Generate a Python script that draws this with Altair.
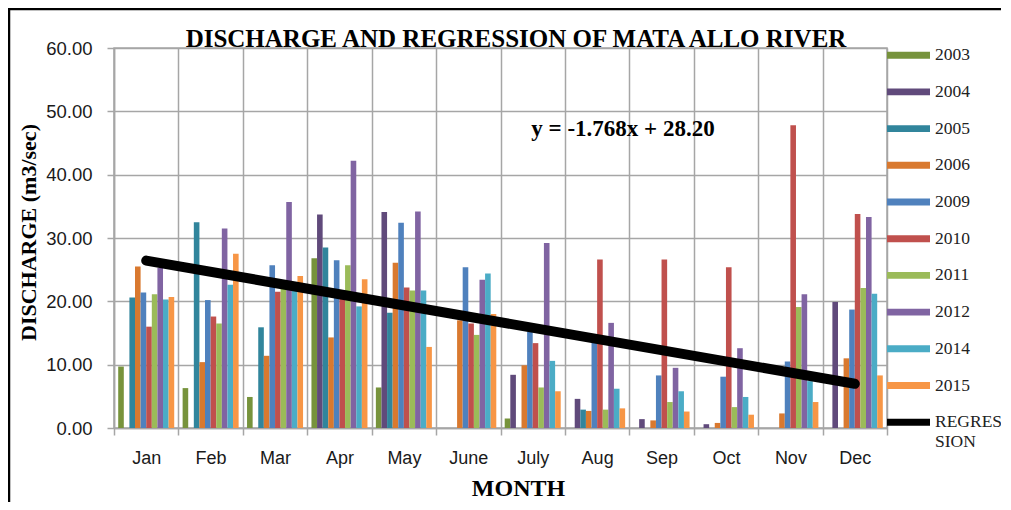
import altair as alt
import pandas as pd

MONTHS = ["Jan", "Feb", "Mar", "Apr", "May", "June", "July", "Aug", "Sep", "Oct", "Nov", "Dec"]
YEARS = ["2003", "2004", "2005", "2006", "2009", "2010", "2011", "2012", "2014", "2015"]
COLORS = ["#77933C", "#604A7B", "#31859C", "#D9792F", "#4F81BD", "#C0504D",
          "#9BBB59", "#8064A2", "#4BACC6", "#F79646"]

# discharge (m3/sec) per month, one list per year
Y2003 = [9.7, 6.3, 4.9, 26.8, 6.4, 0.0, 1.5, 0.0, 0.0, 0.0, 0.0, 0.0]
Y2004 = [0.0, 0.0, 0.0, 33.7, 34.1, 0.0, 8.4, 4.6, 1.4, 0.6, 0.0, 19.9]
Y2005 = [20.6, 32.5, 15.9, 28.5, 18.2, 0.0, 0.0, 2.9, 0.0, 0.0, 0.0, 0.0]
Y2006 = [25.5, 10.4, 11.4, 14.3, 26.1, 17.0, 9.9, 2.7, 1.2, 0.8, 2.3, 11.0]
Y2009 = [21.4, 20.2, 25.7, 26.5, 32.4, 25.4, 15.2, 14.0, 8.3, 8.1, 10.5, 18.7]
Y2010 = [16.0, 17.6, 21.5, 20.5, 22.2, 16.5, 13.4, 26.6, 26.6, 25.4, 47.8, 33.8]
Y2011 = [21.1, 16.5, 22.0, 25.7, 21.7, 14.7, 6.4, 2.9, 4.1, 3.3, 19.1, 22.1]
Y2012 = [25.3, 31.5, 35.7, 42.2, 34.2, 23.4, 29.2, 16.6, 9.5, 12.6, 21.1, 33.3]
Y2014 = [20.3, 22.6, 22.3, 19.2, 21.7, 24.4, 10.6, 6.2, 5.8, 4.9, 7.4, 21.2]
Y2015 = [20.7, 27.5, 24.0, 23.5, 12.8, 18.0, 5.8, 3.1, 2.6, 2.1, 4.1, 8.3]
SERIES = [Y2003, Y2004, Y2005, Y2006, Y2009, Y2010, Y2011, Y2012, Y2014, Y2015]

# regression line end points (Jan and Dec), y = -1.768x + 28.20
REG_MONTHS = ["Jan", "Dec"]
REG_VALUES = [26.43, 6.98]
REG_LABEL = "REGRESSION"
EQUATION = "y = -1.768x + 28.20"
TITLE = "DISCHARGE AND REGRESSION OF MATA ALLO RIVER"

rows = []
for yr, vals in zip(YEARS, SERIES):
    for m, v in zip(MONTHS, vals):
        if v > 0:
            rows.append({"month": m, "year": yr, "value": v})
bars_df = pd.DataFrame(rows)
reg_df = pd.DataFrame({"month": REG_MONTHS, "value": REG_VALUES})
one = pd.DataFrame({"k": [0]})

GRID = "#a6a6a6"
SERIF = "Liberation Serif"
SANS = "Liberation Sans"

x_enc = alt.X(
    "month:N", sort=MONTHS,
    scale=alt.Scale(domain=MONTHS, paddingInner=0, paddingOuter=0),
    axis=alt.Axis(
        tickBand="extent", grid=True, gridColor=GRID, gridWidth=1.5,
        tickColor=GRID, tickWidth=1.5, tickSize=7, domainColor=GRID, domainWidth=1.5,
        labelAngle=0, labelFont=SANS, labelFontSize=18, labelColor="#1a1a1a", labelPadding=14,
        title="MONTH", titleFont=SERIF, titleFontSize=24, titleFontWeight="bold",
        titleColor="#000000", titleX=404, titleY=67, titleBaseline="alphabetic",
        titleAlign="center", titleAnchor="start",
    ),
)
y_enc = alt.Y(
    "value:Q",
    scale=alt.Scale(domain=[0, 60], nice=False, zero=True),
    axis=alt.Axis(
        values=[0, 10, 20, 30, 40, 50, 60], format=".2f", grid=True, gridColor=GRID,
        gridWidth=1.5, tickColor=GRID, tickWidth=1.5, tickSize=7, domainColor=GRID,
        domainWidth=1.5, labelFont=SANS, labelFontSize=18.5, labelColor="#1a1a1a",
        labelPadding=15, title="DISCHARGE (m3/sec)", titleFont=SERIF, titleFontSize=22,
        titleFontWeight="bold", titleColor="#000000", titleX=-86, titleY=184,
        titleBaseline="middle", titleAlign="center", titleAnchor="start", titleAngle=270,
    ),
)

LEG_PATH = "M-1,-0.16H1V0.16H-1Z"
color_enc = alt.Color(
    "year:N",
    scale=alt.Scale(domain=YEARS + [REG_LABEL], range=COLORS + ["#000000"]),
    legend=alt.Legend(
        title=None, orient="none", legendX=773, legendY=-14.3, padding=0,
        symbolType=LEG_PATH, symbolSize=1849, symbolStrokeWidth=0, symbolOpacity=1,
        labelFont=SERIF, labelFontSize=17.5, labelColor="#222222", labelOffset=5,
        rowPadding=6.7, labelLimit=200,
        labelExpr="datum.label == 'REGRESSION' ? ['REGRES', 'SION'] : datum.label",
    ),
)

bars = alt.Chart(bars_df).mark_bar(opacity=1).encode(
    x=x_enc,
    xOffset=alt.XOffset("year:N", sort=YEARS,
                        scale=alt.Scale(domain=YEARS, paddingInner=0, paddingOuter=0.75)),
    y=y_enc,
    color=color_enc,
)

reg = alt.Chart(reg_df).mark_line(color="#000000", strokeWidth=10, strokeCap="round").encode(
    x=alt.X("month:N", sort=MONTHS),
    y=alt.Y("value:Q"),
)

eq = alt.Chart(one).mark_text(
    text=EQUATION, font=SERIF, fontSize=23, fontWeight="bold", color="#000000",
    align="center", baseline="alphabetic",
).encode(x=alt.value(509), y=alt.value(88))

title = alt.Chart(one).mark_text(
    text=TITLE, font=SERIF, fontSize=25, fontWeight="bold", color="#000000",
    align="center", baseline="alphabetic",
).encode(x=alt.value(402), y=alt.value(-1))

frame = alt.Chart(one).mark_rect(filled=False, stroke="#000000", strokeWidth=2.5).encode(
    x=alt.value(-105), x2=alt.value(1000), y=alt.value(-39), y2=alt.value(700),
)

chart = alt.layer(bars, reg, eq, title, frame).properties(
    width=773, height=380,
    autosize=alt.AutoSizeParams(type="none"),
    padding={"left": 106, "top": 40, "right": 114, "bottom": 74},
    background="#ffffff",
).configure_view(stroke=GRID, strokeWidth=1.5)

chart.save("out.html", embed_options={"renderer": "svg", "actions": False})
